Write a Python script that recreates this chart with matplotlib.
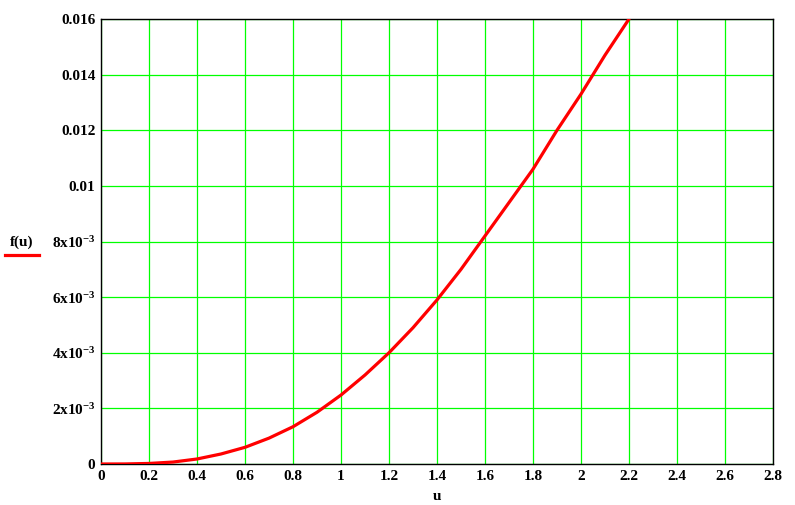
import numpy as np
import matplotlib
matplotlib.use("Agg")
import matplotlib.pyplot as plt
from matplotlib.lines import Line2D

plt.rcParams['font.family'] = ['Liberation Serif', 'DejaVu Serif']
plt.rcParams['font.weight'] = 'bold'
plt.rcParams['mathtext.fontset'] = 'custom'
plt.rcParams['mathtext.rm'] = 'Liberation Serif:bold'
plt.rcParams['mathtext.it'] = 'Liberation Serif:bold'
plt.rcParams['mathtext.bf'] = 'Liberation Serif:bold'

# values
u = [0.0, 0.1, 0.2, 0.3, 0.4, 0.5, 0.6, 0.7, 0.8, 0.9, 1.0, 1.1,
     1.2, 1.3, 1.4, 1.5, 1.6, 1.7, 1.8, 1.9, 2.0, 2.1, 2.2, 2.3]
fu = [0.0, 0.000002, 0.00002, 0.00007, 0.00018, 0.00036, 0.0006, 0.00093,
      0.00134, 0.00186, 0.00248, 0.0032, 0.0040, 0.0049, 0.0059, 0.0070,
      0.0082, 0.0094, 0.0106, 0.0120, 0.0133, 0.0147, 0.0160, 0.0174]

xticks = [0, 0.2, 0.4, 0.6, 0.8, 1, 1.2, 1.4, 1.6, 1.8, 2, 2.2, 2.4, 2.6, 2.8]
xticklabels = ['0', '0.2', '0.4', '0.6', '0.8', '1', '1.2', '1.4', '1.6',
               '1.8', '2', '2.2', '2.4', '2.6', '2.8']
yticks = [0, 0.002, 0.004, 0.006, 0.008, 0.01, 0.012, 0.014, 0.016]
yticklabels = ['0', r'2x10$^{-3}$', r'4x10$^{-3}$', r'6x10$^{-3}$',
               r'8x10$^{-3}$', '0.01', '0.012', '0.014', '0.016']

fig = plt.figure(figsize=(7.95, 5.05), dpi=100)
ax = fig.add_axes([101/795, 41/505, 672/795, 445/505])

ax.plot(u, fu, color='#ff0000', lw=2.3, solid_joinstyle='miter', zorder=3)

ax.set_xlim(0, 2.8)
ax.set_ylim(0, 0.016)
ax.set_xticks(xticks)
ax.set_xticklabels(xticklabels, fontsize=11, fontweight='bold')
ax.set_yticks(yticks)
ax.set_yticklabels(yticklabels, fontsize=11, fontweight='bold')
ax.tick_params(length=0, pad=4)
ax.grid(True, color='#00ff00', lw=0.9)
for s in ax.spines.values():
    s.set_color('black')
    s.set_linewidth(1.0)

fig.text(437/795, 1 - 496/505, 'u', fontsize=11, fontweight='bold',
         ha='center', va='center')
fig.text(22/795, 1 - 242/505, 'f(u)', fontsize=11, fontweight='bold',
         ha='center', va='center')
fig.add_artist(Line2D([5/795, 39/795], [1 - 255/505, 1 - 255/505],
                      color='#ff0000', lw=2.3, transform=fig.transFigure))

fig.savefig('out.png', dpi=100)
